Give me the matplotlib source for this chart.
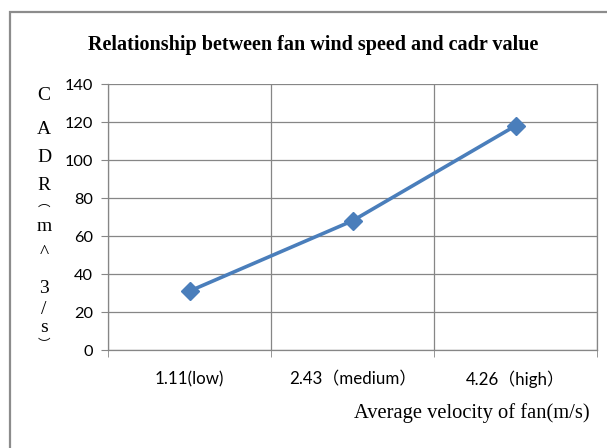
import matplotlib
matplotlib.use("Agg")
from matplotlib import pyplot as plt
from matplotlib.patches import Rectangle

categories = ["1.11(low)", "2.43（medium）", "4.26（high）"]
cadr = [31, 68, 118]
yticks = [0, 20, 40, 60, 80, 100, 120, 140]
ylabel_chars = ["C", "A", "D", "R", "︵", "m", "^", "3", "/", "s", "︶"]

serif = ["Liberation Serif", "Noto Sans CJK SC"]
sans = ["Lato", "Noto Sans CJK SC"]
grid_col = "#868686"
line_col = "#4a7ebb"

fig = plt.figure(figsize=(6.07, 4.48), dpi=100)
fig.patches.append(Rectangle((10 / 607, -0.1), 1.2, 1 - 12 / 448 + 0.1,
                             transform=fig.transFigure, fill=False,
                             edgecolor="#8c8c8c", linewidth=1.6))

ax = fig.add_axes([108 / 607, 1 - 350 / 448, 489 / 607, 266 / 448])
x = list(range(len(categories)))
ax.plot(x, cadr, color=line_col, linewidth=2.6, marker="D", markersize=9,
        markeredgecolor=line_col, markerfacecolor=line_col)

ax.set_xlim(-0.5, len(categories) - 0.5)
ax.set_ylim(0, 140)
ax.set_yticks(yticks)
ax.set_xticks(x)
ax.set_xticklabels(categories, family=sans, fontsize=12.2)
ax.set_xticks([i - 0.5 for i in range(len(categories) + 1)], minor=True)
ax.tick_params(axis="x", which="major", length=0, pad=15)
ax.tick_params(axis="x", which="minor", length=5, color=grid_col, direction="out")
ax.tick_params(axis="y", length=5, color=grid_col, pad=6, labelsize=11.8)
for lab in ax.get_yticklabels():
    lab.set_family(sans)
ax.grid(axis="y", color=grid_col, linewidth=0.9)
ax.grid(axis="x", which="minor", color=grid_col, linewidth=0.9)
ax.spines["top"].set_visible(False)
for s in ["left", "right", "bottom"]:
    ax.spines[s].set_color(grid_col)
    ax.spines[s].set_linewidth(0.9)
ax.set_axisbelow(True)

fig.text(313 / 607, 1 - 45 / 448, "Relationship between fan wind speed and cadr value",
         ha="center", va="center", family=serif, fontsize=14.5, fontweight="bold")
fig.text(590 / 607, 1 - 413 / 448, "Average velocity of fan(m/s)",
         ha="right", va="center", family=serif, fontsize=14.8)

ypos = [95, 130, 158, 185, 203, 226, 253, 288, 310, 327, 345]
for ch, yp in zip(ylabel_chars, ypos):
    fs = 9 if ch in "︵︶" else 14
    fig.text(44 / 607, 1 - yp / 448, ch, ha="center", va="center",
             family=serif, fontsize=fs)

fig.savefig("out.png", dpi=100)
